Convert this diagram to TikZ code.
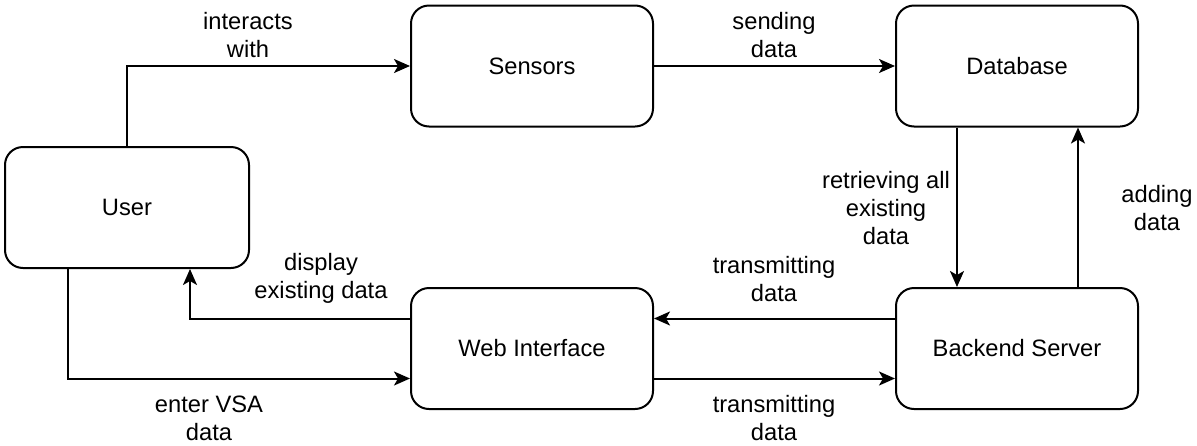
\documentclass[tikz,border=0pt]{standalone}
\usepackage{fontspec}
\setmainfont{Liberation Sans}
\usetikzlibrary{arrows.meta}
\begin{document}
\begin{tikzpicture}[x=1pt,y=-1pt,
  box/.style={draw=black,line width=2pt,rounded corners=18pt,minimum width=242pt,minimum height=121pt,inner sep=0pt,font=\fontsize{23.7}{28}\selectfont},
  lab/.style={align=center,inner sep=0pt,font=\fontsize{23.7}{28}\selectfont},
  arr/.style={draw=black,line width=2pt,-{Stealth[length=16pt,width=14pt,inset=4pt]}}]
\useasboundingbox (0,0) rectangle (1197,445);
\node[box] (sensors) at (532,66) {Sensors};
\node[box] (db) at (1017,66) {Database};
\node[box,minimum width=244pt] (user) at (127,207.5) {User};
\node[box] (web) at (532,348.5) {Web Interface};
\node[box] (be) at (1017,348.5) {Backend Server};
\draw[arr] (user.north) |- (sensors.west);
\draw[arr] (sensors.east) -- (db.west);
\draw[arr] ([xshift=-60pt]db.south) -- ([xshift=-60pt]be.north);
\draw[arr] ([xshift=61pt]be.north) -- ([xshift=61pt]db.south);
\draw[arr] ([yshift=30pt]be.west) -- ([yshift=30pt]web.east);
\draw[arr] ([yshift=-30pt]web.east) -- ([yshift=-30pt]be.west);
\draw[arr] ([yshift=30pt]web.west) -| ([xshift=63pt]user.south);
\draw[arr] ([xshift=-59pt]user.south) |- ([yshift=-30pt]web.west);
\node[lab] (l1) at (248,35) {interacts\\with};
\node[lab] (l2) at (774,35) {sending\\data};
\node[lab] (l3) at (886,208) {retrieving all\\existing\\data};
\node[lab] (l4) at (1157,208) {adding\\data};
\node[lab] (l5) at (774,279) {transmitting\\data};
\node[lab] (l6) at (774,418) {transmitting\\data};
\node[lab] (l7) at (321,278) {display\\existing data};
\node[lab] (l8) at (209,418) {enter VSA\\data};
\end{tikzpicture}
\end{document}
